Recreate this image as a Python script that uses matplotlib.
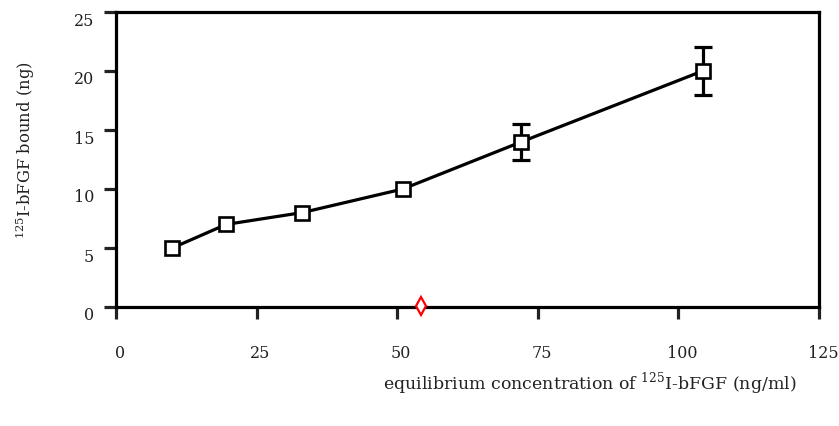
import numpy as np
import matplotlib
matplotlib.use("Agg")
import matplotlib.pyplot as plt
import matplotlib.transforms as mtransforms

plt.rcParams['font.family'] = ['DejaVu Serif']
plt.rcParams['mathtext.fontset'] = 'custom'
plt.rcParams['mathtext.rm'] = 'DejaVu Serif'

# data
conc = [10, 19.6, 33.1, 51, 72.1, 104.3]
bound = [5, 7, 8, 10, 14, 20]
err = [0, 0, 0, 0, 1.5, 2]
extra_x = [54.2]
extra_y = [0.1]

xticks = [0, 25, 50, 75, 100, 125]
yticks = [0, 5, 10, 15, 20, 25]

fig = plt.figure(figsize=(8.39, 4.26), dpi=100)
ax = fig.add_axes([116/839, 1-307/426, (819-116)/839, (307-12)/426])

yerr = np.array(err)
ax.errorbar(conc, bound, yerr=np.where(yerr > 0, yerr, np.nan), fmt='none',
            ecolor='black', elinewidth=2.3, capsize=6.5, capthick=2.3, zorder=2)
ax.plot(conc, bound, color='black', lw=2.3, marker='s', markersize=9.5,
        markerfacecolor='white', markeredgecolor='black', markeredgewidth=1.9, zorder=3)
ax.plot(extra_x, extra_y, linestyle='none', marker='d', markersize=9,
        markerfacecolor='white', markeredgecolor='red', markeredgewidth=1.6,
        clip_on=False, zorder=4)

ax.set_xlim(0, 125)
ax.set_ylim(0, 25)
ax.set_xticks(xticks)
ax.set_yticks(yticks)

for s in ax.spines.values():
    s.set_linewidth(2.3)
ax.tick_params(direction='out', length=8.6, width=2.3, labelsize=11.5, colors='#222222')
ax.tick_params(axis='x', pad=19)
ax.tick_params(axis='y', pad=7)

# labels sit a little off their ticks in the reference
for lab in ax.get_xticklabels():
    lab.set_transform(lab.get_transform() + mtransforms.ScaledTranslation(4/100, 0, fig.dpi_scale_trans))
for lab in ax.get_yticklabels():
    lab.set_transform(lab.get_transform() + mtransforms.ScaledTranslation(0, -7/100, fig.dpi_scale_trans))

fig.text(25/839, 1-150/426, r'$^{125}$I-bFGF bound (ng)', rotation=90,
         ha='center', va='center', fontsize=11.8, color='#222222')
fig.text(590/839, 1-383/426, r'equilibrium concentration of $^{125}$I-bFGF (ng/ml)',
         ha='center', va='center', fontsize=12.5, color='#222222')

fig.savefig('out.png', dpi=100)
